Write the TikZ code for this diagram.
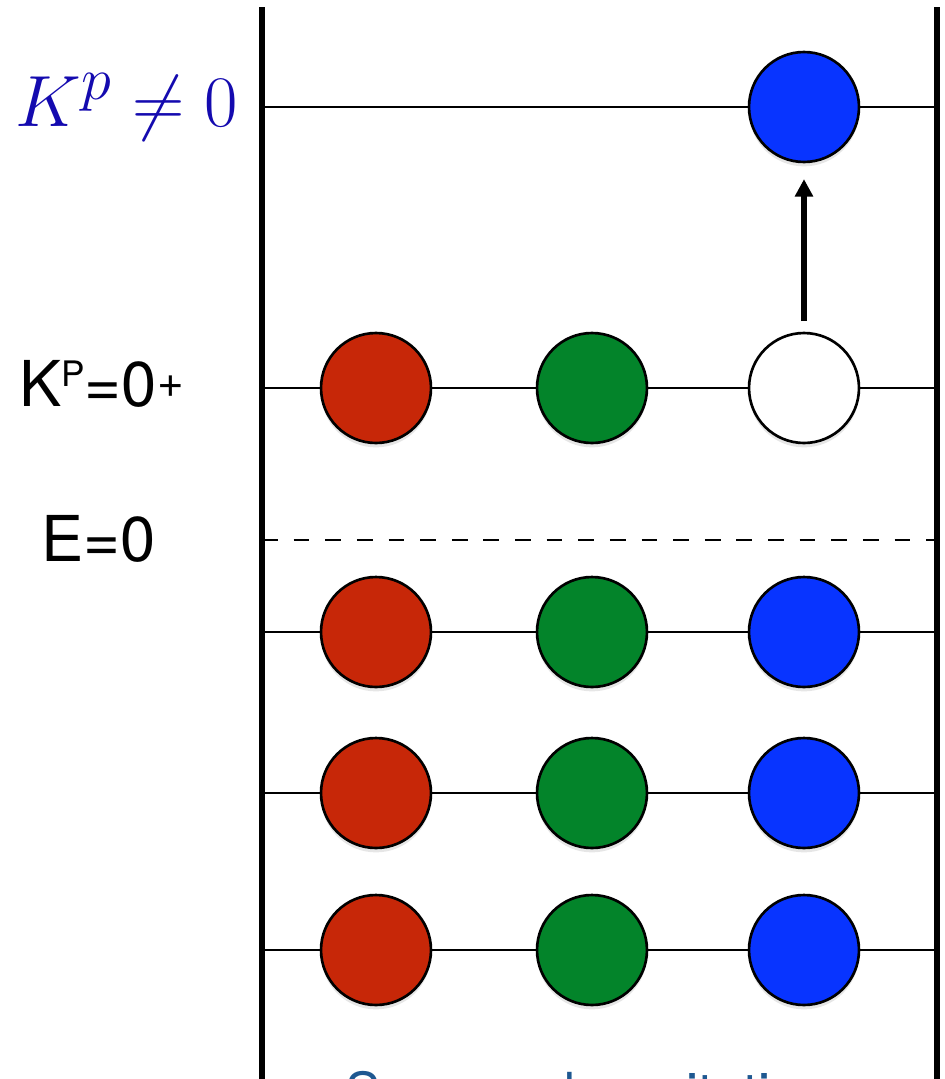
\documentclass[tikz,border=0pt]{standalone}
\usepackage{fontspec}
\usepackage{tikz}
\usetikzlibrary{
  arrows.meta,
  positioning,
  shadows
}
\newfontfamily\heros{TeX Gyre Heros}
\definecolor{quarkred}{RGB}{199,39,8}
\definecolor{quarkgreen}{RGB}{3,132,42}
\definecolor{quarkblue}{RGB}{8,52,255}
\definecolor{kblue}{RGB}{20,10,175}
\definecolor{seablue}{RGB}{30,88,145}
\newcommand{\lvlsup}[3][0.31em]{\raisebox{#1}{\fontsize{#2}{#2}\selectfont #3}}

\begin{document}
\begin{tikzpicture}[x=0.02cm, y=-0.02cm,
  quark/.style={circle, draw=black, line width=1.5pt, minimum size=2.2cm, inner sep=0pt,
    drop shadow={opacity=0.2, shadow xshift=0pt, shadow yshift=-2.5pt}},
  level/.style={line width=1.1pt},
  rail/.style={line width=3pt},
  lbl/.style={anchor=base west, inner sep=0pt, font=\heros\fontsize{36}{40}\selectfont}]
  \useasboundingbox (0,0) rectangle (945,1079);
  \clip (0,0) rectangle (945,1079);

  % Rails
  \coordinate (railLtop) at (262,7);
  \coordinate (railLbot) at (262,1100);
  \coordinate (railRtop) at (937,7);
  \coordinate (railRbot) at (937,1100);
  \draw[rail] (railLtop) -- (railLbot);
  \draw[rail] (railRtop) -- (railRbot);

  % Excited level
  \node[quark, fill=quarkblue] (excited) at (804,107) {};
  \coordinate (left-top) at (262,107);
  \coordinate (right-top) at (937,107);
  \draw[level] (left-top) -- (excited) -- (right-top);

  % K^P = 0^+ level
  \node[quark, fill=quarkred] (red-p) at (376,388) {};
  \node[quark, fill=quarkgreen] (green-p) at (592,388) {};
  \node[quark, fill=white] (hole) at (804,388) {};
  \coordinate (left-p) at (262,388);
  \coordinate (right-p) at (937,388);
  \draw[level] (left-p) -- (red-p) -- (green-p) -- (hole) -- (right-p);

  % Excitation
  \draw[line width=3pt, -{Triangle[width=10pt,length=10pt]}, shorten <=6pt, shorten >=9pt] (hole) -- (excited);

  % E = 0
  \coordinate (zeroL) at (262,540);
  \coordinate (zeroR) at (937,540);
  \draw[line width=1.1pt, dash pattern=on 9pt off 9pt] (zeroL) -- (zeroR);

  % Filled sea levels
  \foreach \row/\y in {a/632, b/793, c/950} {
    \node[quark, fill=quarkred] (red-\row) at (376,\y) {};
    \node[quark, fill=quarkgreen] (green-\row) at (592,\y) {};
    \node[quark, fill=quarkblue] (blue-\row) at (804,\y) {};
    \coordinate (left-\row) at (262,\y);
    \coordinate (right-\row) at (937,\y);
    \draw[level] (left-\row) -- (red-\row) -- (green-\row) -- (blue-\row) -- (right-\row);
  }

  % Labels
  \node[anchor=base west, inner sep=0pt, text=kblue] (kp) at (15,126) {\scalebox{1.66}{\Huge $K^p \neq 0$}};
  \node[lbl] (kzero) at (19,406) {K\lvlsup{20}{P}=0\lvlsup[0.14em]{26}{+}};
  \node[lbl] (ezero) at (41,561) {E=0};
  \node[lbl, text=seablue, font=\heros\fontsize{30.6}{34}\selectfont] (sea) at (345,1111) {Sea quark excitation};
\end{tikzpicture}
\end{document}
